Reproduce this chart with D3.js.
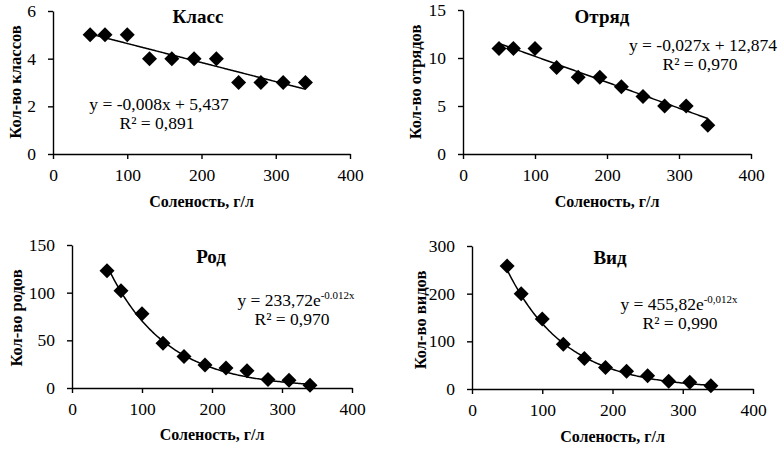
<!DOCTYPE html>
<html>
<head>
<meta charset="utf-8">
<script src="https://cdn.jsdelivr.net/npm/d3@7"></script>
<style>
  body { margin: 0; background: #fff; }
  svg { display: block; }
  svg text { font-family: "Liberation Serif", "Times New Roman", serif; }
</style>
</head>
<body>
<div class="chart-div"></div>
<script>
//--------------------------- Data

var salinity = [50, 70, 100, 130, 160, 190, 220, 250, 280, 310, 340];
var classCount = [5, 5, 5, 4, 4, 4, 4, 3, 3, 3, 3];
var orderCount = [11, 11, 11, 9, 8, 8, 7, 6, 5, 5, 3];
var genusCount = [123, 102, 78, 47, 33, 24, 21, 18, 9, 8, 3];
var speciesCount = [258, 200, 147, 94, 64, 45, 37, 28, 16, 14, 7];

var xTicks = [0, 100, 200, 300, 400];
var classTicks = [0, 2, 4, 6];
var orderTicks = [0, 5, 10, 15];
var genusTicks = [0, 50, 100, 150];
var speciesTicks = [0, 100, 200, 300];

var titles = ["Класс", "Отряд", "Род", "Вид"];
var yTitles = ["Кол-во классов", "Кол-во отрядов", "Кол-во родов", "Кол-во видов"];
var xTitle = "Соленость, г/л";

// trend lines as printed on the chart
var fitType = ["linear", "linear", "exp", "exp"];
var fitA = [5.437, 12.874, 233.72, 455.82];
var fitB = [-0.008, -0.027, -0.012, -0.012];
var eqMain = ["y = -0,008x + 5,437", "y = -0,027x + 12,874", "y = 233,72e", "y = 455,82e"];
var eqSup = ["", "", "-0.012x", "-0,012x"];
var r2Labels = ["R² = 0,891", "R² = 0,970", "R² = 0,970", "R² = 0,990"];

//--------------------------- Layout

var width = 784;
var height = 449;
var font = "'Liberation Serif', 'Times New Roman', serif";

var panels = [
  { values: classCount, ticks: classTicks, left: 53, right: 350, top: 11, bottom: 154,
    titleX: 198, titleY: 23, ytX: 21, ytY: 82, xtY: 207, eqX: 159, eqY: 110, r2X: 157, r2Y: 129 },
  { values: orderCount, ticks: orderTicks, left: 463, right: 751, top: 10, bottom: 154,
    titleX: 602, titleY: 23, ytX: 421, ytY: 82, xtY: 207, eqX: 703, eqY: 51, r2X: 700, r2Y: 70 },
  { values: genusCount, ticks: genusTicks, left: 72, right: 352, top: 245, bottom: 388,
    titleX: 211, titleY: 263, ytX: 22, ytY: 318, xtY: 440, eqX: 296, eqY: 306, r2X: 292, r2Y: 325 },
  { values: speciesCount, ticks: speciesTicks, left: 472, right: 753, top: 246, bottom: 389,
    titleX: 610, titleY: 264, ytX: 426, ytY: 320, xtY: 442, eqX: 679, eqY: 310, r2X: 680, r2Y: 329 }
];

var svg = d3.select("div.chart-div")
  .append("svg")
  .attr("width", width)
  .attr("height", height)
  .style("background", "#fff");

var line = d3.line();

panels.forEach(function (p, k) {

  var x = d3.scaleLinear().domain([0, 400]).range([p.left, p.right]);
  var y = d3.scaleLinear().domain([0, d3.max(p.ticks)]).range([p.bottom, p.top]);

  var g = svg.append("g");

  //--------------------------- Axes

  var xAxis = g.append("g")
    .attr("transform", "translate(0," + p.bottom + ")")
    .call(d3.axisBottom(x).tickValues(xTicks).tickFormat(d3.format("d"))
      .tickSize(5).tickSizeOuter(0).tickPadding(10));

  var yAxis = g.append("g")
    .attr("transform", "translate(" + p.left + ",0)")
    .call(d3.axisLeft(y).tickValues(p.ticks).tickFormat(d3.format("d"))
      .tickSize(5).tickSizeOuter(0).tickPadding(12));

  [xAxis, yAxis].forEach(function (a) {
    a.attr("font-family", null).attr("font-size", null);
    a.selectAll("path, line").attr("stroke", "#000").attr("stroke-width", 1.4);
    a.selectAll("text")
      .style("font-family", font)
      .style("font-size", "17.5px")
      .attr("fill", "#000");
  });

  //--------------------------- Trend line

  var xs = d3.range(salinity[0], salinity[salinity.length - 1] + 0.01, 2);
  var fit = xs.map(function (v) {
    var val = fitType[k] == "linear" ? fitA[k] + fitB[k] * v : fitA[k] * Math.exp(fitB[k] * v);
    return [x(v), y(val)];
  });

  g.append("path")
    .attr("d", line(fit))
    .attr("fill", "none")
    .attr("stroke", "#000")
    .attr("stroke-width", 1.5);

  //--------------------------- Diamond markers

  g.selectAll("path.pt").data(p.values).enter()
    .append("path")
    .attr("class", "pt")
    .attr("d", function (d, i) {
      var cx = x(salinity[i]), cy = y(d), r = 7.5;
      return "M" + cx + "," + (cy - r) + "L" + (cx + r) + "," + cy +
             "L" + cx + "," + (cy + r) + "L" + (cx - r) + "," + cy + "Z";
    })
    .attr("fill", "#000");

  //--------------------------- Texts

  g.append("text")
    .attr("x", p.titleX)
    .attr("y", p.titleY)
    .attr("text-anchor", "middle")
    .style("font-family", font)
    .style("font-weight", "bold")
    .style("font-size", "19px")
    .text(titles[k]);

  g.append("text")
    .attr("x", (p.left + p.right) / 2)
    .attr("y", p.xtY)
    .attr("text-anchor", "middle")
    .style("font-family", font)
    .style("font-weight", "bold")
    .style("font-size", "16px")
    .text(xTitle);

  g.append("text")
    .attr("transform", "translate(" + p.ytX + "," + p.ytY + ") rotate(-90)")
    .attr("text-anchor", "middle")
    .style("font-family", font)
    .style("font-weight", "bold")
    .style("font-size", "16.5px")
    .text(yTitles[k]);

  var eq = g.append("text")
    .attr("x", p.eqX)
    .attr("y", p.eqY)
    .attr("text-anchor", "middle")
    .style("font-family", font)
    .style("font-size", "17.5px");
  eq.append("tspan").text(eqMain[k]);
  if (eqSup[k] != "") {
    eq.append("tspan")
      .attr("dy", -7)
      .style("font-size", "11px")
      .text(eqSup[k]);
  }

  g.append("text")
    .attr("x", p.r2X)
    .attr("y", p.r2Y)
    .attr("text-anchor", "middle")
    .style("font-family", font)
    .style("font-size", "17.5px")
    .text(r2Labels[k]);
});
</script>
</body>
</html>
